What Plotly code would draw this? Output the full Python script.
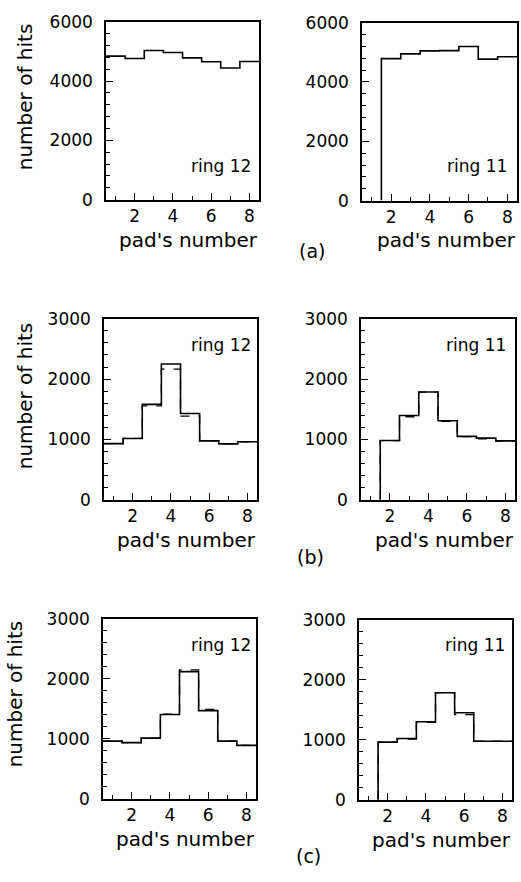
import plotly.graph_objects as go

pads = [1, 2, 3, 4, 5, 6, 7, 8]

a_ring12 = [4840, 4760, 5030, 4960, 4780, 4650, 4440, 4660]
a_ring11 = [0, 4790, 4950, 5050, 5060, 5200, 4770, 4850]

b_ring12 = [930, 1015, 1580, 2250, 1430, 975, 925, 960]
b_ring12_d = [930, 1015, 1555, 2165, 1385, 975, 925, 960]
b_ring11 = [0, 980, 1395, 1785, 1310, 1050, 1020, 975]
b_ring11_d = [0, 980, 1375, 1785, 1300, 1045, 1010, 970]

c_ring12 = [960, 935, 1010, 1405, 2120, 1470, 960, 890]
c_ring12_d = [960, 935, 1010, 1410, 2150, 1490, 960, 890]
c_ring11 = [0, 960, 1020, 1300, 1785, 1450, 975, 975]
c_ring11_d = [0, 960, 1010, 1290, 1785, 1420, 975, 975]

x_ticks = [2, 4, 6, 8]
xlabel = "pad's number"
ylabel = "number of hits"
W, H = 521, 882
FONT = "DejaVu Sans"

# panel pixel boxes: (left, right, top, bottom)
panels = [
    dict(box=(106, 259, 12, 194), ymax=6000, dt=2000, mt=400, solid=a_ring12, dash=None, ring="ring 12", rpos=(253, 160), ttl=(25, 12)),
    dict(box=(362, 517, 13, 195), ymax=6000, dt=2000, mt=400, solid=a_ring11, dash=None, ring="ring 11", rpos=(509, 160), ttl=None),
    dict(box=(104, 257, 316, 501), ymax=3000, dt=1000, mt=200, solid=b_ring12, dash=b_ring12_d, ring="ring 12", rpos=(253, 343), ttl=(25, 318)),
    dict(box=(361, 515, 316, 501), ymax=3000, dt=1000, mt=200, solid=b_ring11, dash=b_ring11_d, ring="ring 11", rpos=(508, 343), ttl=None),
    dict(box=(103, 256, 623, 807), ymax=3000, dt=1000, mt=200, solid=c_ring12, dash=c_ring12_d, ring="ring 12", rpos=(253, 650), ttl=(15, 623)),
    dict(box=(359, 512, 624, 808), ymax=3000, dt=1000, mt=200, solid=c_ring11, dash=c_ring11_d, ring="ring 11", rpos=(507, 650), ttl=None),
]
letters = [("(a)", 312, 247), ("(b)", 310, 560), ("(c)", 308, 866)]


def steps(vals):
    edges = [p - 0.5 for p in pads] + [pads[-1] + 0.5]
    ys = list(vals) + [vals[-1]]
    # skip leading empty bins: the histogram rises from zero at the first filled bin's edge
    k = 0
    while k < len(vals) - 1 and vals[k] == 0:
        k += 1
    if k > 0:
        return [edges[k]] + edges[k:], [0] + ys[k:]
    return edges, ys


fig = go.Figure()
annotations = []
for i, p in enumerate(panels):
    n = "" if i == 0 else str(i + 1)
    L, R, T, B = p["box"]
    xa = dict(
        domain=[L / W, R / W], range=[0.5, 8.5], anchor="y" + n,
        tickmode="array", tickvals=x_ticks, ticks="inside", ticklen=7,
        tickcolor="black", tickwidth=1.3,
        minor=dict(tickmode="linear", tick0=0, dtick=1, ticks="inside", ticklen=4, tickcolor="black", tickwidth=1.3),
        showline=True, linecolor="black", linewidth=1.5, mirror=True,
        showgrid=False, zeroline=False, ticklabelstandoff=0,
        tickfont=dict(family=FONT, size=17, color="black"),
    )
    ya = dict(
        domain=[1 - B / H, 1 - T / H], range=[0, p["ymax"]], anchor="x" + n,
        tick0=0, dtick=p["dt"], ticks="inside", ticklen=7, tickcolor="black", tickwidth=1.3,
        minor=dict(tick0=0, dtick=p["mt"], ticks="inside", ticklen=4, tickcolor="black", tickwidth=1.3),
        showline=True, linecolor="black", linewidth=1.5, mirror=True,
        showgrid=False, zeroline=False, ticklabelstandoff=8,
        tickfont=dict(family=FONT, size=17, color="black"),
    )
    fig.update_layout({"xaxis" + n: xa, "yaxis" + n: ya})
    if p["dash"] is not None:
        xs, ys = steps(p["dash"])
        fig.add_trace(go.Scatter(x=xs, y=ys, mode="lines", line=dict(shape="hv", color="black", width=1.3, dash="dash"),
                                 xaxis="x" + n, yaxis="y" + n, showlegend=False, hoverinfo="skip"))
    xs, ys = steps(p["solid"])
    fig.add_trace(go.Scatter(x=xs, y=ys, mode="lines", line=dict(shape="hv", color="black", width=1.6),
                             xaxis="x" + n, yaxis="y" + n, showlegend=False, hoverinfo="skip"))
    annotations.append(dict(text=p["ring"], x=p["rpos"][0] / W, y=1 - p["rpos"][1] / H, xref="paper", yref="paper",
                            xanchor="right", yanchor="middle", showarrow=False,
                            font=dict(family=FONT, size=17, color="black")))
    annotations.append(dict(text=xlabel, x=(R + 1) / W, y=1 - 235 / H if i < 2 else 1 - (B + 41) / H,
                            xref="paper", yref="paper", xanchor="right", yanchor="middle", showarrow=False,
                            font=dict(family=FONT, size=20, color="black")))
    if p["ttl"] is not None:
        annotations.append(dict(text=ylabel, x=p["ttl"][0] / W, y=1 - p["ttl"][1] / H, xref="paper", yref="paper",
                                xanchor="center", yanchor="top", textangle=-90, showarrow=False,
                                font=dict(family=FONT, size=20, color="black")))

for t, x, y in letters:
    annotations.append(dict(text=t, x=x / W, y=1 - y / H, xref="paper", yref="paper", xanchor="center",
                            yanchor="middle", showarrow=False, font=dict(family=FONT, size=19, color="black")))

fig.update_layout(width=W, height=H, margin=dict(l=0, r=0, t=0, b=0), paper_bgcolor="white",
                  plot_bgcolor="white", annotations=annotations, showlegend=False)
fig.write_html("out.html")
